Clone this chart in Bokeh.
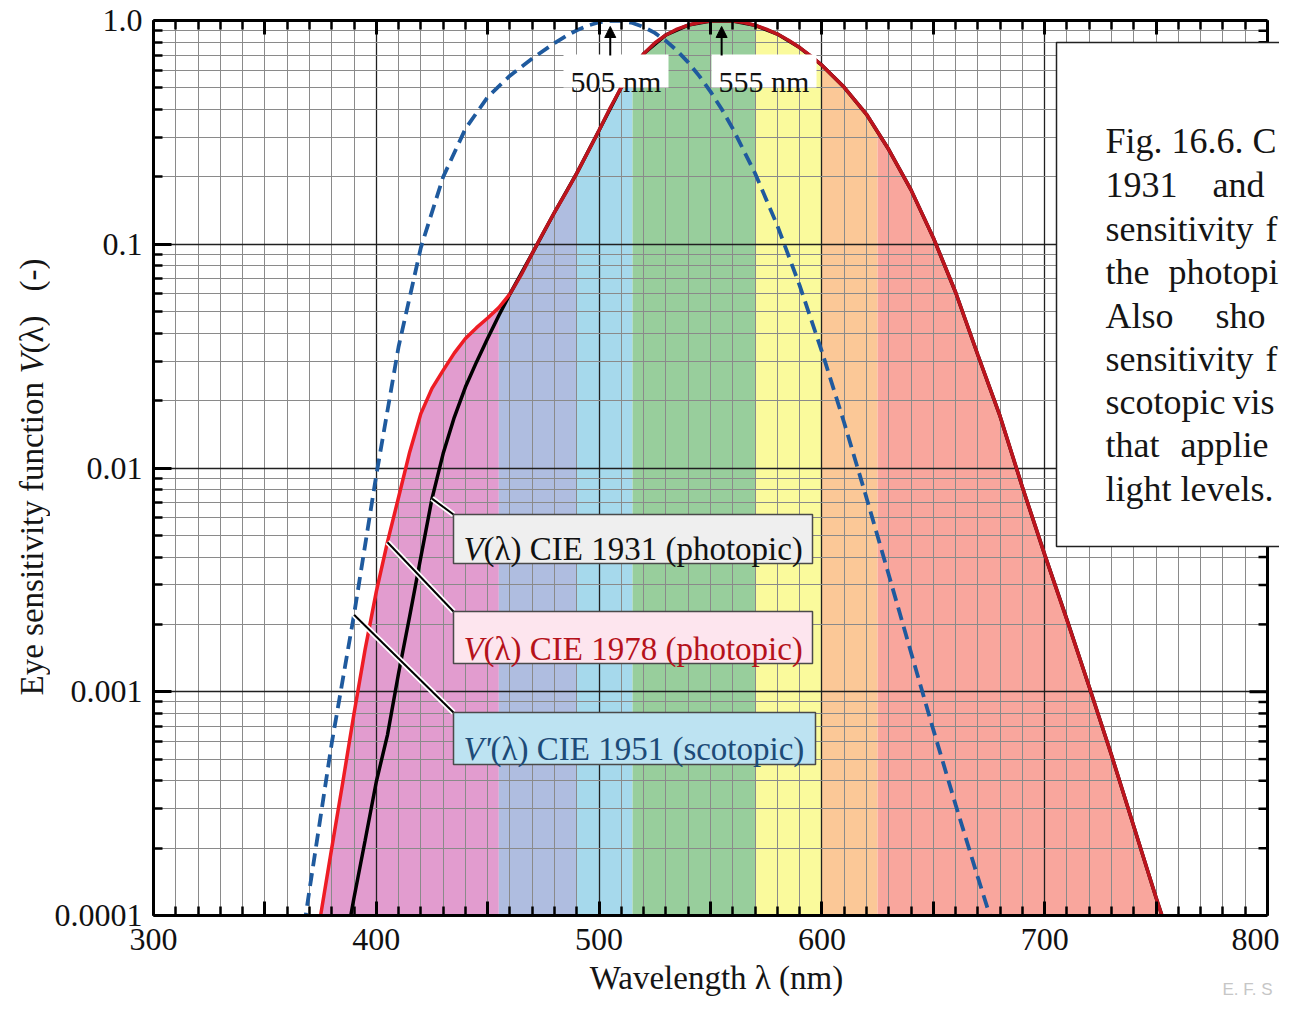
import numpy as np
from bokeh.plotting import figure
from bokeh.layouts import row
from bokeh.models import (Range1d, FixedTicker, LinearAxis, Label, BoxAnnotation,
                          Arrow, NormalHead)
from bokeh.core.properties import value
from bokeh.embed import file_html
from bokeh.resources import INLINE

# ---------------- data ----------------
# CIE 1978 photopic V(lambda) (red curve)
wl_1978 = [375, 380, 385, 390, 395, 400, 405, 410, 415, 420, 425, 430, 435, 440, 445, 450,
           455, 460, 465, 470, 475, 480, 485, 490, 495, 500, 505, 510, 515, 520, 525, 530,
           535, 540, 545, 550, 555, 560, 565, 570, 575, 580, 585, 590, 595, 600, 610, 620,
           630, 640, 650, 660, 670, 680, 690, 700, 710, 720, 730, 740, 750, 760]
v_1978 = [1.0e-4, 2.0e-4, 3.96e-4, 8.0e-4, 1.55e-3, 2.8e-3, 4.66e-3, 7.4e-3, 1.18e-2, 1.75e-2,
          2.27e-2, 2.73e-2, 3.26e-2, 3.79e-2, 4.24e-2, 4.68e-2, 5.21e-2, 6.0e-2, 7.29e-2, 9.1e-2,
          0.1128, 0.139, 0.1693, 0.208, 0.2586, 0.323, 0.4073, 0.503, 0.6082, 0.71, 0.7932, 0.862,
          0.9149, 0.954, 0.9803, 0.995, 1.0, 0.995, 0.9786, 0.952, 0.9154, 0.87, 0.8163, 0.757,
          0.6949, 0.631, 0.503, 0.381, 0.265, 0.175, 0.107, 0.061, 0.032, 0.017, 0.00821, 0.0041,
          0.00209, 0.00105, 0.00052, 0.00025, 0.00012, 0.00006]

# CIE 1931 photopic V(lambda) (black curve)
wl_1931 = [380, 385, 390, 395, 400, 405, 410, 415, 420, 425, 430, 435, 440, 445, 450, 455,
           460, 465, 470, 480, 490, 500, 510, 520, 530, 540, 550, 560, 570, 580, 590, 600,
           610, 620, 630, 640, 650, 660, 670, 680, 690, 700, 710, 720, 730, 740, 750, 760]
v_1931 = [3.9e-5, 6.4e-5, 1.2e-4, 2.17e-4, 3.96e-4, 6.4e-4, 1.21e-3, 2.18e-3, 4.0e-3, 7.3e-3,
          1.16e-2, 1.684e-2, 2.3e-2, 2.98e-2, 3.8e-2, 4.8e-2, 6.0e-2, 7.39e-2, 9.1e-2,
          0.139, 0.208, 0.323, 0.503, 0.71, 0.862, 0.954, 0.995, 0.995, 0.952, 0.87, 0.757,
          0.631, 0.503, 0.381, 0.265, 0.175, 0.107, 0.061, 0.032, 0.017, 0.0082, 0.0041,
          0.0021, 0.00105, 0.00052, 0.00025, 0.00012, 0.00006]

# CIE 1951 scotopic V'(lambda) (dashed blue curve)
wl_1951 = [365, 370, 380, 390, 400, 410, 420, 430, 440, 450, 460, 470, 480, 485, 490, 495,
           500, 505, 510, 515, 520, 525, 530, 535, 540, 545, 550, 555, 560, 570, 580, 590,
           600, 610, 620, 630, 640, 650, 660, 670, 680]
v_1951 = [6.0e-5, 1.3e-4, 5.89e-4, 2.209e-3, 9.29e-3, 3.484e-2, 9.66e-2, 0.1998, 0.3281,
          0.455, 0.567, 0.676, 0.793, 0.851, 0.904, 0.949, 0.982, 0.998, 0.997, 0.975, 0.935,
          0.880, 0.811, 0.733, 0.650, 0.564, 0.481, 0.402, 0.3288, 0.2076, 0.1212, 0.0655,
          0.03315, 0.01593, 0.00737, 0.003335, 0.001497, 0.000677, 0.0003129, 0.000148,
          0.0000715]

# spectral colour bands under the CIE 1978 curve (nm edges)
band_edges = [375, 455, 490, 515, 570, 600, 625, 752]
band_colors = ["#e29ccf", "#afbde0", "#a6d9ec", "#98ce9c", "#fafa9c", "#fbc897", "#f9a69d"]

# ticks
x_label_ticks = [300, 400, 500, 600, 700, 800]
x_half_ticks = [350, 450, 550, 650, 750]
x_minor = list(range(300, 801, 10))
y_ticks = [1e-4, 1e-3, 1e-2, 1e-1, 1.0]
y_tick_labels = ["0.0001", "0.001", "0.01", "0.1", "1.0"]
y_minor = [k * 10.0 ** d for d in range(-4, 0) for k in range(2, 10)]

peak_scotopic = 505
peak_photopic = 555
callout_1931_wl = 425
callout_1978_wl = 405
callout_1951_wl = 390

# ---------------- layout helpers (pixels from the picture's top-left) ----------------
FL, FR, FT, FB = 153, 1267, 20, 915      # plot frame for 300..800 nm, 1..1e-4
W, H = 1279, 999                        # whole page content
LW = 50                                 # left strip holding the y title
SCALE = (FR - FL) / 500.0
SERIF = "Liberation Serif"


def px_x(px):
    return 300 + (px - FL) / SCALE


def px_y(py):
    return 10 ** (-4.0 * (py - FT) / (FB - FT))


X_END = px_x(W)

p = figure(width=W - LW, height=H, x_range=Range1d(300, X_END), y_range=Range1d(1e-4, 1.0),
           y_axis_type="log", output_backend="svg", toolbar_location=None,
           min_border_left=FL - LW, min_border_right=0,
           min_border_top=FT, min_border_bottom=H - FB)
p.background_fill_color = "white"
p.border_fill_color = "white"
p.outline_line_color = None

# ---------------- grid ----------------
p.xgrid.ticker = FixedTicker(ticks=x_label_ticks, minor_ticks=x_minor)
p.xgrid.grid_line_color = "#202020"
p.xgrid.grid_line_width = 1.3
p.xgrid.minor_grid_line_color = "#8a8a8a"
p.xgrid.minor_grid_line_width = 1
p.ygrid.ticker = FixedTicker(ticks=y_ticks, minor_ticks=y_minor)
p.ygrid.grid_line_color = "#202020"
p.ygrid.grid_line_width = 1.3
p.ygrid.minor_grid_line_color = "#8a8a8a"
p.ygrid.minor_grid_line_width = 1


def style_axis(ax, major_in, minor_in):
    ax.axis_line_width = 3
    ax.axis_line_color = "black"
    ax.major_tick_in = major_in
    ax.major_tick_out = 0
    ax.minor_tick_in = minor_in
    ax.minor_tick_out = 0
    ax.major_tick_line_width = 3
    ax.minor_tick_line_width = 2.5
    ax.major_tick_line_color = "black"
    ax.minor_tick_line_color = "black"
    ax.major_label_text_font = SERIF
    ax.major_label_text_font_size = "32px"
    ax.major_label_text_color = "#111111"


x_all_major = sorted(x_label_ticks + x_half_ticks)

xb = p.xaxis[0]
xb.ticker = FixedTicker(ticks=x_all_major, minor_ticks=x_minor)
xb.bounds = (300, 800)
style_axis(xb, 14, 9)
xb.major_label_overrides = {t: "" for t in x_half_ticks}
xb.major_label_standoff = 13
xb.axis_label = "Wavelength \u03bb (nm)"
xb.axis_label_text_font = SERIF
xb.axis_label_text_font_size = "33px"
xb.axis_label_text_font_style = "normal"
xb.axis_label_text_color = "#151515"
xb.axis_label_standoff = 7

yl = p.yaxis[0]
yl.ticker = FixedTicker(ticks=y_ticks, minor_ticks=y_minor)
style_axis(yl, 18, 9)
yl.major_label_overrides = {t: s for t, s in zip(y_ticks, y_tick_labels)}
yl.major_label_standoff = 11

xt = LinearAxis(ticker=FixedTicker(ticks=x_all_major, minor_ticks=x_minor), bounds=(300, 800))
style_axis(xt, 14, 9)
xt.major_label_overrides = {t: "" for t in x_all_major}
xt.major_label_standoff = 0
p.add_layout(xt, "above")

# ---------------- colour bands ----------------
lx = np.array(wl_1978, dtype=float)
ly = np.log10(np.array(v_1978, dtype=float))
for lo, hi, col in zip(band_edges[:-1], band_edges[1:], band_colors):
    xs = [lo] + [w for w in wl_1978 if lo < w < hi] + [hi]
    ys = np.maximum(10 ** np.interp(xs, lx, ly), 1e-4)
    p.varea(x=xs, y1=[1e-4] * len(xs), y2=list(ys), fill_color=col, fill_alpha=1.0,
            level="image")

# white margin right of the 800 nm border, right border and its inward ticks
p.quad(left=[800], right=[X_END + 5], bottom=[1e-4], top=[1.0], fill_color="white",
       line_color=None)
p.segment(x0=[800], y0=[1e-4], x1=[800], y1=[1.0], line_color="black", line_width=3)
p.segment(x0=[800] * len(y_ticks), y0=y_ticks, x1=[800 - 18 / SCALE] * len(y_ticks),
          y1=y_ticks, line_color="black", line_width=3)
p.segment(x0=[800] * len(y_minor), y0=y_minor, x1=[800 - 9 / SCALE] * len(y_minor),
          y1=y_minor, line_color="black", line_width=2.5)

# ---------------- curves ----------------
p.line(wl_1931, v_1931, line_color="black", line_width=3.5)
split = wl_1978.index(460)
p.line(wl_1978[:split + 1], v_1978[:split + 1], line_color="#ee1c24", line_width=3.5)
p.line(wl_1978[split:], v_1978[split:], line_color="#bd141d", line_width=3.5)
p.line(wl_1951, v_1951, line_color="#1f5a9e", line_width=3.8, line_dash="13 7")

# ---------------- callout labels ----------------
legend_items = [
    (callout_1931_wl, v_1931[wl_1931.index(callout_1931_wl)], (453, 514, 812, 563),
     "#efefef", "#111111", "V", "(\u03bb) CIE 1931 (photopic)", 548, 20),
    (callout_1978_wl, v_1978[wl_1978.index(callout_1978_wl)], (453, 611, 812, 663),
     "#fde5ee", "#b5121b", "V", "(\u03bb) CIE 1978 (photopic)", 648, 20),
    (callout_1951_wl, v_1951[wl_1951.index(callout_1951_wl)], (453, 712, 815, 764),
     "#bde3f2", "#1d4b78", "V'", "(\u03bb) CIE 1951 (scotopic)", 748, 27),
]
for wl0, v0, (bl, bt, br, bb), fill, tcol, ital, rest, base, off in legend_items:
    xs = [wl0, px_x(bl)]
    ys = [v0, px_y(bt)]
    p.line(xs, ys, line_color="white", line_width=5.5)
    p.line(xs, ys, line_color="black", line_width=2)
    p.quad(left=[px_x(bl)], right=[px_x(br)], top=[px_y(bt)], bottom=[px_y(bb)],
           fill_color=fill, line_color="#4a4a4a", line_width=1.5)
    p.text(x=[px_x(463)], y=[px_y(base)], text=[ital], text_font=value(SERIF),
           text_font_style="italic", text_font_size="33px", text_color=tcol,
           text_align="left", text_baseline="alphabetic")
    p.text(x=[px_x(463 + off)], y=[px_y(base)], text=[rest], text_font=value(SERIF),
           text_font_size="33px", text_color=tcol, text_align="left",
           text_baseline="alphabetic")

# ---------------- peak markers ----------------
for pk, (bl, br) in [(peak_scotopic, (563, 668)), (peak_photopic, (711, 816))]:
    p.quad(left=[px_x(bl)], right=[px_x(br)], top=[px_y(54)], bottom=[px_y(87)],
           fill_color="white", line_color=None)
    p.text(x=[(px_x(bl) + px_x(br)) / 2], y=[px_y(81)], text=["%d nm" % pk],
           text_font=value(SERIF), text_font_size="30px", text_color="#111111",
           text_align="center", text_baseline="alphabetic")
    p.add_layout(Arrow(end=NormalHead(size=11, fill_color="black", line_color="black"),
                       x_start=pk, y_start=px_y(55), x_end=pk, y_end=px_y(26),
                       line_color="black", line_width=2))

# ---------------- caption box ----------------
p.add_layout(BoxAnnotation(left=px_x(1056), right=X_END + 20, top=px_y(42),
                           bottom=px_y(546), fill_color="white", fill_alpha=1.0,
                           line_color="#222222", line_width=1.5, line_alpha=1.0))

caption_words = [
    ("Fig. 16.6. C", 1105, 140),
    ("1931", 1105, 184), ("and", 1212, 184),
    ("sensitivity", 1105, 228), ("f", 1265, 228),
    ("the", 1105, 271), ("photopi", 1168, 271),
    ("Also", 1105, 315), ("sho", 1215, 315),
    ("sensitivity", 1105, 358), ("f", 1265, 358),
    ("scotopic", 1105, 401), ("vis", 1232, 401),
    ("that", 1105, 444), ("applie", 1180, 444),
    ("light levels.", 1105, 488),
]
for txt, wx, wy in caption_words:
    p.add_layout(Label(x=px_x(wx), y=px_y(wy), text=txt, text_font=SERIF,
                       text_font_size="36px", text_color="#151515",
                       text_align="left", text_baseline="alphabetic"))

# credit (bottom right, outside the frame; a side-panel label is not clipped)
p.add_layout(Label(x=px_x(1222), y=px_y(989), text="E. F. S",
                   text_font="Liberation Sans", text_font_size="17px",
                   text_color="#c6c6c6", text_align="left",
                   text_baseline="alphabetic"), "above")

# ---------------- left strip with the y title ----------------
pl = figure(width=LW, height=H, x_range=Range1d(0, LW), y_range=Range1d(0, FB - FT),
            output_backend="svg", toolbar_location=None, x_axis_location=None,
            y_axis_location=None, min_border_left=0, min_border_right=0,
            min_border_top=FT, min_border_bottom=H - FB, title=None)
pl.grid.visible = False
pl.outline_line_color = None
pl.background_fill_color = "white"
pl.border_fill_color = "white"

ylab_parts = [("Eye sensitivity function", 695, "normal"),
              ("V", 373, "italic"),
              ("(\u03bb)", 353, "normal"),
              ("(-)", 291, "normal")]
for txt, py, style in ylab_parts:
    pl.text(x=[31], y=[FB - py], text=[txt], text_font=value(SERIF),
            text_font_style=style, text_font_size="33px", text_color="#151515",
            angle=np.pi / 2, text_align="left", text_baseline="middle")

layout = row(pl, p)
open("out.html", "w").write(file_html(layout, INLINE))
